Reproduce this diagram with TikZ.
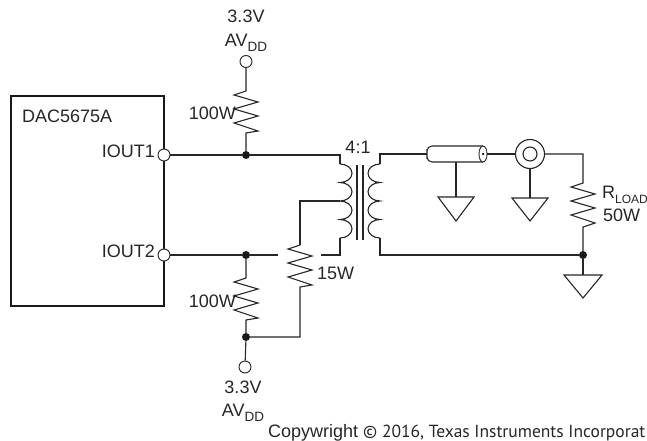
\documentclass[tikz,border=0pt]{standalone}
\usepackage{fontspec}
\setmainfont{Liberation Sans}
\newfontfamily\ptsans{PT Sans}
\usetikzlibrary{shapes.geometric}
\newcommand{\lowtext}[2]{\raisebox{-5pt}{\fontsize{#1}{#1}\selectfont #2}}
\tikzset{
  wire/.style={line width=1.1pt, draw=black!85},
  term/.style={shape=circle, draw=black!85, fill=white, line width=0.9pt, minimum size=12pt, inner sep=0pt},
  junc/.style={shape=circle, fill=black!90, minimum size=8pt, inner sep=0pt},
  lbl/.style={inner sep=0pt, anchor=base, font=\fontsize{18}{18}\selectfont, text=black!85},
  lblw/.style={lbl, anchor=base west},
  lble/.style={lbl, anchor=base east},
  res/.style={to path={-- ++(-12,4) -- ++(24,7) -- ++(-24,7) -- ++(24,7) -- ++(-24,7) -- ++(24,8) -- (\tikztotarget)}},
  gndtri/.style={wire, line join=miter}
}
\begin{document}
\begin{tikzpicture}[x=1pt, y=-1pt]
\useasboundingbox (0,0) rectangle (647,441);
% converter box
\node[shape=rectangle, draw=black!90, line width=2.3pt, minimum width=152.5pt, minimum height=210pt, inner sep=0pt] (dac) at (87.5,201) {};
\node[lblw] (dacname) at (22,122) {DAC5675A};
\node[term] (iout1) at (164,155) {};
\node[term] (iout2) at (164,255) {};
\node[lble] (iout1name) at (155,157) {IOUT1};
\node[lble] (iout2name) at (155,257) {IOUT2};
% supplies
\node[term] (vtop) at (246,61.5) {};
\node[term] (vbot) at (245,367) {};
\node[lbl] (vtopval) at (246,23) {3.3V};
\node[lbl] (vtopname) at (246,47) {AV\lowtext{13.5}{DD}};
\node[lbl] (vbotval) at (243,393) {3.3V};
\node[lbl] (vbotname) at (243,416) {AV\lowtext{13.5}{DD}};
\node[junc] (j1) at (246,155) {};
\node[junc] (j2) at (246,255) {};
\node[junc] (j3) at (246,337) {};
\node[junc] (j4) at (583,255) {};
% resistors
\coordinate (r1a) at (246,91);
\coordinate (r1b) at (246,133);
\coordinate (r2a) at (246,278);
\coordinate (r2b) at (246,320);
\coordinate (r3a) at (300,245);
\coordinate (r3b) at (300,287);
\coordinate (r4a) at (583,183);
\coordinate (r4b) at (583,227);
\node[lble] (r1name) at (236,120) {100W};
\node[lble] (r2name) at (236,307) {100W};
\node[lblw] (r3name) at (317,279) {15W};
\node[lblw] (r4name) at (602,198) {R\lowtext{12}{LOAD}};
\node[lblw] (r4val) at (603,221) {50W};
\draw[wire] (vtop) -- (r1a) to[res] (r1b) -- (j1);
\draw[wire] (j2) -- (r2a) to[res] (r2b) -- (j3);
\draw[wire] (vbot) -- (j3);
\draw[wire] (r3a) to[res] (r3b) |- (j3);
% transformer
\node[lbl] (ratio) at (358,153) {4:1};
\coordinate (pa) at (340,164);
\coordinate (pm) at (340,201);
\coordinate (pb) at (340,238);
\coordinate (sa) at (380,164);
\coordinate (sb) at (380,238);
\draw[wire] (pa) \foreach \i in {1,...,4}{arc[start angle=-90, end angle=90, x radius=12, y radius=9.25]};
\draw[wire] (sa) \foreach \i in {1,...,4}{arc[start angle=-90, end angle=-270, x radius=12, y radius=9.25]};
\coordinate (corea) at (357,165);
\coordinate (coreb) at (357,240);
\coordinate (corec) at (363,165);
\coordinate (cored) at (363,240);
\draw[wire] (corea) -- (coreb);
\draw[wire] (corec) -- (cored);
\coordinate (gapl) at (278,255);
\coordinate (gapr) at (321,255);
\draw[wire] (iout1) -- (j1) -| (pa);
\draw[wire] (iout2) -- (j2) -- (gapl);
\draw[wire] (gapr) -| (pb);
\draw[wire] (r3a) |- (pm);
% cable and output
\coordinate (cable) at (427,154);
\coordinate (cabletop) at (483,146);
\coordinate (cablebot) at (483,162);
\coordinate (cablegnd) at (456,162);
\draw[wire, rounded corners=5pt] (cabletop) -| (cable) |- (cablebot);
\node[shape=ellipse, draw=black!85, fill=white, line width=0.9pt, minimum width=8pt, minimum height=16pt, inner sep=0pt] (cableend) at (483,154) {};
\node[shape=circle, fill=black, minimum size=2.5pt, inner sep=0pt] (cabledot) at (483,154) {};
\node[shape=circle, draw=black!85, line width=1.1pt, minimum size=29pt, inner sep=0pt] (coax) at (530,154) {};
\node[shape=circle, draw=black!85, line width=1.1pt, minimum size=14pt, inner sep=0pt] (coaxin) at (530,154) {};
\draw[wire] (sa) |- (cable);
\draw[wire] (cableend) -- (coax);
\draw[wire] (coax) -| (r4a) to[res] (r4b) -- (j4);
\draw[wire] (sb) |- (j4);
% grounds
\coordinate (g1) at (456,197);
\coordinate (g2) at (530,198);
\coordinate (g3) at (583,275);
\draw[wire] (cablegnd) -- (g1);
\draw[wire] (coax.south) -- (g2);
\draw[wire] (j4) -- (g3);
\draw[gndtri] (g1) -- ++(-18,0) -- ++(18,24) -- ++(18,-24) -- cycle;
\draw[gndtri] (g2) -- ++(-18,0) -- ++(18,23) -- ++(18,-23) -- cycle;
\draw[gndtri] (g3) -- ++(-19,0) -- ++(19,23) -- ++(19,-23) -- cycle;
\node[lblw] (copy) at (268,437) {Copywright {\ptsans\fontsize{17.5}{17.5}\selectfont © 2016, Texas Instruments Incorporat}};
\end{tikzpicture}
\end{document}
